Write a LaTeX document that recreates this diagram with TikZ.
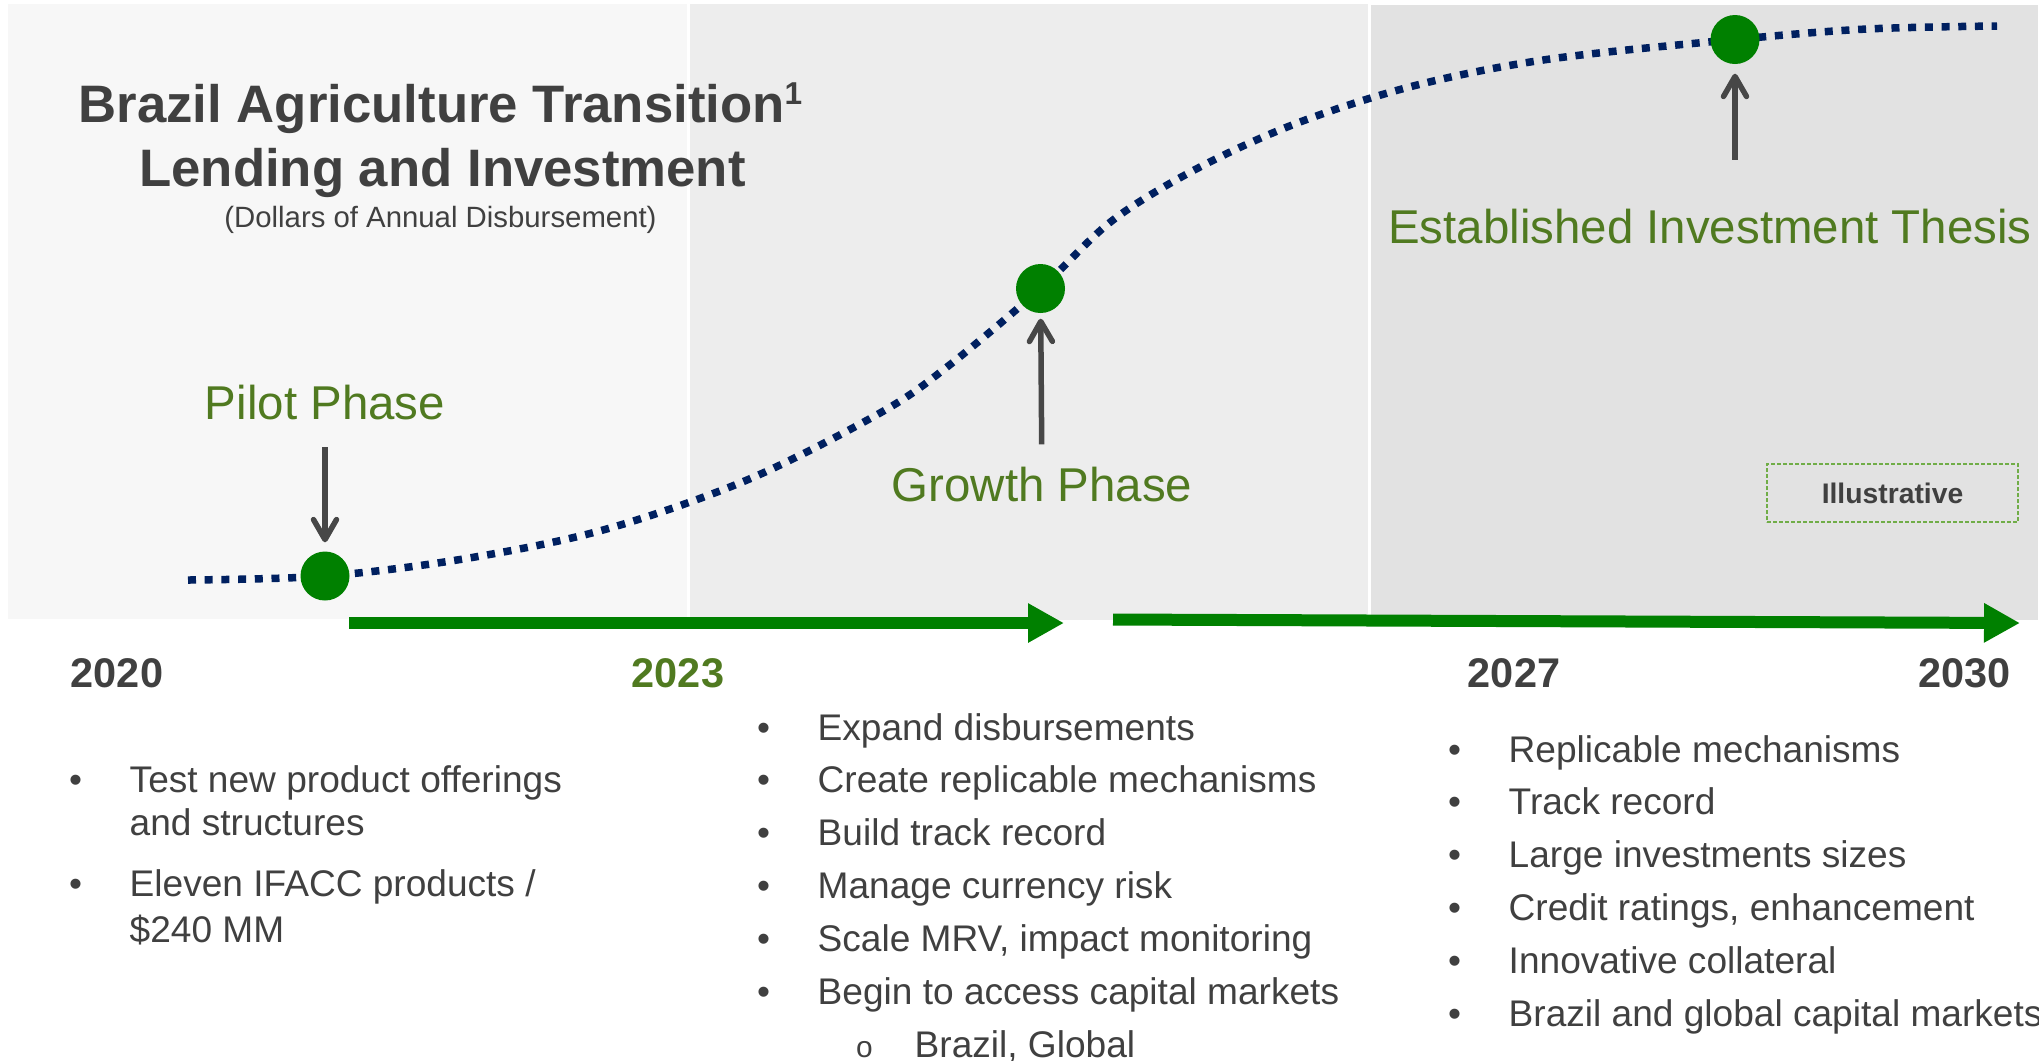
\documentclass[tikz,border=0pt]{standalone}
\usepackage{fontspec}
\setmainfont{Liberation Sans}
\usetikzlibrary{arrows.meta}

\definecolor{ink}{HTML}{404040}
\definecolor{leaf}{HTML}{507A20}
\definecolor{dotgreen}{HTML}{008000}
\definecolor{navy}{HTML}{002060}
\definecolor{arrowgray}{HTML}{474747}
\definecolor{paneA}{HTML}{F7F7F7}
\definecolor{paneB}{HTML}{EDEDED}
\definecolor{paneC}{HTML}{E2E2E2}
\definecolor{tagline}{HTML}{70AD47}

\begin{document}
\begin{tikzpicture}[x=0.1mm, y=-0.1mm,
		title/.style={text=ink, font=\bfseries\fontsize{15}{18}\selectfont, inner sep=0pt, anchor=base},
		subtitle/.style={text=ink, font=\fontsize{8.35}{10}\selectfont, inner sep=0pt, anchor=base},
		phase/.style={text=leaf, font=\fontsize{13.5}{16}\selectfont, inner sep=0pt, anchor=base},
		year/.style={text=ink, font=\bfseries\fontsize{11.8}{14}\selectfont, inner sep=0pt, anchor=base},
		listline/.style={text=ink, font=\fontsize{10.55}{12.7}\selectfont, inner sep=0pt, anchor=base west},
		listitem/.style={listline, execute at begin node={\llap{\textbullet\hspace{4.75mm}}}},
		dot/.style={circle, fill=dotgreen, minimum size=4.9mm, inner sep=0pt},
		trend/.style={navy, line width=0.75mm, dash pattern=on 0.8mm off 0.87mm},
		pointer/.style={draw=arrowgray, line width=0.55mm, -{Straight Barb[round, length=2mm, width=2.3mm]}},
		span/.style={dotgreen, line width=1.2mm, -{Triangle[length=3.6mm, width=3.7mm]}},
		tag/.style={draw=tagline, line width=0.15mm, dash pattern=on 0.4mm off 0.2mm, minimum width=25.1mm, minimum height=5.8mm, text=ink, font=\bfseries\fontsize{8.05}{9}\selectfont}]
	\useasboundingbox (0,0) rectangle (2039,1060);

	\fill[paneA] (8,4) rectangle (687,619);
	\fill[paneB] (690,4) rectangle (1368,620);
	\fill[paneC] (1371,5) rectangle (2038,620);

	\node[title] (title-a) at (440.5,122.4) {Brazil Agriculture Transition\raisebox{5pt}{\fontsize{9}{9}\selectfont 1}};
	\node[title] (title-b) at (442.5,186) {Lending and Investment};
	\node[subtitle] (title-c) at (440.5,227) {(Dollars of Annual Disbursement)};

	\draw[trend] plot[smooth, tension=0.55] coordinates {(188,580) (325,576) (463,559) (603,530) (747,480) (880,413) (947,367) (1040,289) (1113,220) (1200,167) (1300,122) (1417,85) (1550,59) (1735,39.5) (1867,29) (1997,26)};

	\node[dot] (pilot) at (325,576) {};
	\node[dot] (growth) at (1040.5,288.5) {};
	\node[dot] (thesis) at (1735,39.5) {};

	\node[phase] (pilot-lbl) at (325,419.5) {Pilot Phase};
	\node[phase] (growth-lbl) at (1042,501.5) {Growth Phase};
	\node[phase] (thesis-lbl) at (1710,243) {Established Investment Thesis};

	\draw[pointer, shorten <=2.65mm, shorten >=0.85mm] (pilot-lbl) -- (pilot);
	\draw[pointer, shorten <=2.2mm, shorten >=0.5mm] (growth-lbl) -- (growth);
	\draw[pointer, shorten <=4.8mm, shorten >=0.9mm] (thesis-lbl.north -| thesis) -- (thesis);

	\coordinate (run-a) at (349,623);
	\coordinate (run-b) at (1064,623);
	\coordinate (run-c) at (1113,619.5);
	\coordinate (run-d) at (2020,623);
	\draw[span] (run-a) -- (run-b);
	\draw[span] (run-c) -- (run-d);

	\node[tag] (note) at (1892.5,493) {Illustrative};

	\node[year] (y2020) at (117,687) {2020};
	\node[year, text=leaf] (y2023) at (678,687) {2023};
	\node[year] (y2027) at (1514,687) {2027};
	\node[year] (y2030) at (1964.5,687) {2030};

	\node[listitem] (pilot-1) at (129,792) {Test new product offerings};
	\node[listline] (pilot-1b) at (129,835) {and structures};
	\node[listitem] (pilot-2) at (129,896) {Eleven IFACC products /};
	\node[listline] (pilot-2b) at (129,942) {\$240 MM};

	\foreach \txt [count=\i] in {Expand disbursements, Create replicable mechanisms, Build track record, Manage currency risk, {Scale MRV, impact monitoring}, Begin to access capital markets}
		\node[listitem] (growth-\i) at (817,{740+52.8*(\i-1)}) {\txt};
	\node[listline, execute at begin node={\llap{\fontsize{8.5}{9}\selectfont o\hspace{4.2mm}}}] (growth-6a) at (914,1057) {Brazil, Global};

	\foreach \txt [count=\i] in {Replicable mechanisms, Track record, Large investments sizes, {Credit ratings, enhancement}, Innovative collateral, Brazil and global capital markets}
		\node[listitem] (thesis-\i) at (1508,{762+52.8*(\i-1)}) {\txt};
\end{tikzpicture}
\end{document}
